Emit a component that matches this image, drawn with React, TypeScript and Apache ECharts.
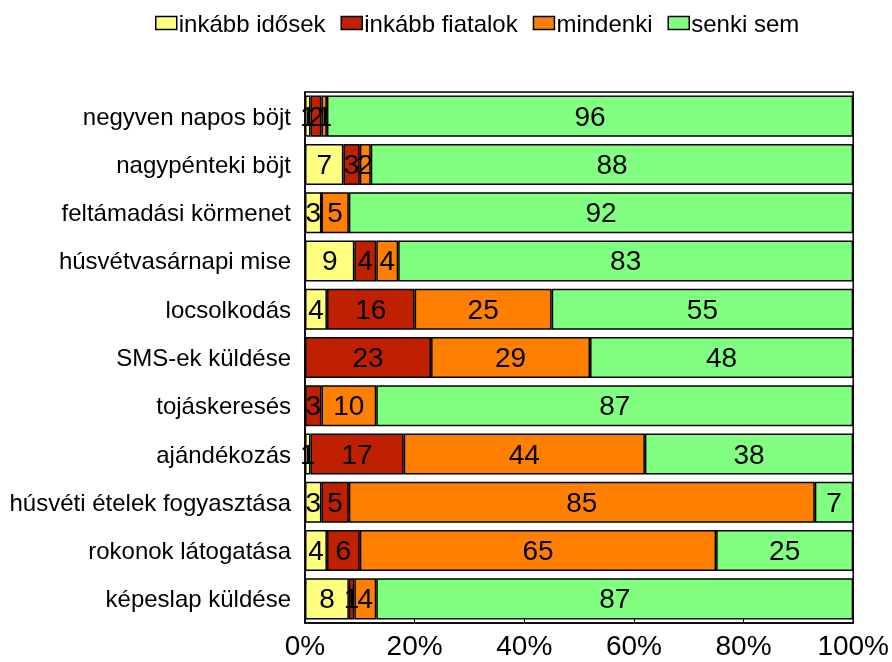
import React, { useEffect, useRef } from "react";
import * as echarts from "echarts";

const categories = [
  "negyven napos böjt",
  "nagypénteki böjt",
  "feltámadási körmenet",
  "húsvétvasárnapi mise",
  "locsolkodás",
  "SMS-ek küldése",
  "tojáskeresés",
  "ajándékozás",
  "húsvéti ételek fogyasztása",
  "rokonok látogatása",
  "képeslap küldése",
];
const seriesNames = ["inkább idősek", "inkább fiatalok", "mindenki", "senki sem"];
const idosek = [1, 7, 3, 9, 4, 0, 0, 1, 3, 4, 8];
const fiatalok = [2, 3, 0, 4, 16, 23, 3, 17, 5, 6, 1];
const mindenki = [1, 2, 5, 4, 25, 29, 10, 44, 85, 65, 4];
const senki = [96, 88, 92, 83, 55, 48, 87, 38, 7, 25, 87];
const colors = ["#FFFF80", "#BF2000", "#FF8000", "#80FF80"];
const xTicks = [0, 20, 40, 60, 80, 100];

const FONT = "Liberation Sans, Arial, Helvetica, sans-serif";

export default function App() {
  const ref = useRef<HTMLDivElement>(null);
  useEffect(() => {
    if (!ref.current) return;
    const chart = echarts.init(ref.current, null, { renderer: "svg" });
    const data = [idosek, fiatalok, mindenki, senki];
    chart.setOption({
      animation: false,
      textStyle: { fontFamily: FONT },
      legend: {
        top: 11,
        left: 155,
        itemWidth: 21,
        itemHeight: 13,
        itemGap: 15,
        icon: "rect",
        padding: 0,
        textStyle: { fontSize: 24, color: "#000", fontFamily: FONT, padding: [0, 0, 0, -3] },
        data: seriesNames.map((n, i) => ({
          name: n,
          itemStyle: { color: colors[i], borderColor: "#000", borderWidth: 1.5 },
        })),
      },
      grid: {
        left: 305,
        right: 38,
        top: 92,
        bottom: 39,
        show: true,
        borderColor: "#000",
        borderWidth: 1.5,
        backgroundColor: "transparent",
      },
      xAxis: {
        type: "value",
        min: 0,
        max: 100,
        interval: 20,
        axisLine: { show: true, lineStyle: { color: "#000", width: 1.5 } },
        axisTick: { show: true, inside: true, length: 5, lineStyle: { color: "#000" } },
        splitLine: { show: false },
        axisLabel: {
          formatter: (v: number) => (xTicks.includes(v) ? v + "%" : ""),
          fontSize: 28,
          color: "#000",
          margin: 8,
          fontFamily: FONT,
        },
      },
      yAxis: {
        type: "category",
        inverse: true,
        data: categories,
        axisLine: { show: true, lineStyle: { color: "#000", width: 1.5 } },
        axisTick: { show: false },
        axisLabel: { fontSize: 24, color: "#000", margin: 14, fontFamily: FONT },
      },
      series: seriesNames.map((n, i) => ({
        name: n,
        type: "bar",
        stack: "total",
        barCategoryGap: "15%",
        data: data[i],
        itemStyle: { color: colors[i], borderColor: "#000", borderWidth: 1.5 },
        label: {
          show: true,
          position: "inside",
          fontSize: 28,
          color: "#000",
          fontFamily: FONT,
          formatter: (p: any) => (p.value === 0 ? "" : String(p.value)),
        },
      })),
    });
    return () => chart.dispose();
  }, []);
  return (
    <div
      ref={ref}
      style={{ position: "fixed", left: 0, top: 0, width: 892, height: 662 }}
    />
  );
}
